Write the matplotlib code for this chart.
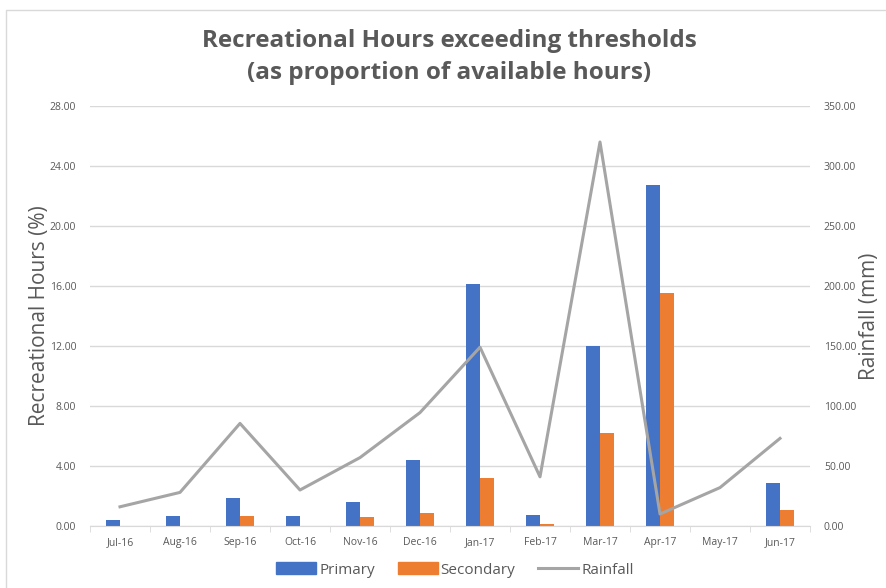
import matplotlib.pyplot as plt
import numpy as np
from matplotlib.lines import Line2D
from matplotlib.patches import Patch, Rectangle

months = ['Jul-16', 'Aug-16', 'Sep-16', 'Oct-16', 'Nov-16', 'Dec-16',
          'Jan-17', 'Feb-17', 'Mar-17', 'Apr-17', 'May-17', 'Jun-17']
primary = [0.42, 0.65, 1.85, 0.65, 1.58, 4.40, 16.15, 0.72, 11.97, 22.75, 0.0, 2.87]
secondary = [0.0, 0.0, 0.67, 0.0, 0.60, 0.85, 3.18, 0.13, 6.18, 15.52, 0.0, 1.07]
rainfall = [16, 28, 85.5, 30, 57, 94.5, 149, 41, 320, 10, 32, 73]

left_ticks = np.arange(0, 28.01, 4)
right_ticks = np.arange(0, 350.01, 50)

blue = '#4472c4'
orange = '#ed7d31'
grey_line = '#a5a5a5'
text_col = '#595959'
font = ['Open Sans', 'DejaVu Sans']

plt.rcParams['font.family'] = font

fig = plt.figure(figsize=(8.86, 5.88), dpi=100)
# light chart-area border
fig.patches.append(Rectangle((6 / 886, -0.1), 2, 1.1 - 10 / 588, transform=fig.transFigure,
                             fill=False, edgecolor='#d9d9d9', linewidth=1))

ax = fig.add_axes([90 / 886, 62 / 588, 720 / 886, 420 / 588])
x = np.arange(len(months))
w = 0.24
ax.bar(x - w / 2, primary, w, color=blue, zorder=2)
ax.bar(x + w / 2, secondary, w, color=orange, zorder=2)

ax.set_xlim(-0.5, len(months) - 0.5)
ax.set_ylim(0, 28)
ax.set_yticks(left_ticks)
ax.set_yticklabels([f'{v:.2f}' for v in left_ticks])
ax.set_xticks(x)
ax.set_xticklabels(months)
ax.set_xticks(np.arange(-0.5, len(months), 1), minor=True)
ax.tick_params(axis='x', which='major', length=0, labelsize=7.5, colors=text_col, pad=8)
ax.tick_params(axis='x', which='minor', length=4, color='#d9d9d9', direction='out')
ax.tick_params(axis='y', length=0, labelsize=7.5, colors=text_col, pad=10)
ax.grid(axis='y', color='#d9d9d9', linewidth=1, zorder=0)
for s in ['top', 'right', 'left']:
    ax.spines[s].set_visible(False)
ax.spines['bottom'].set_color('#d9d9d9')
ax.set_ylabel('Recreational Hours (%)', fontsize=15, color=text_col, labelpad=0)

ax2 = ax.twinx()
ax2.plot(x, rainfall, color=grey_line, linewidth=2.2, zorder=3)
ax2.set_ylim(0, 350)
ax2.set_yticks(right_ticks)
ax2.set_yticklabels([f'{v:.2f}' for v in right_ticks])
ax2.tick_params(axis='y', length=0, labelsize=7.5, colors=text_col, pad=10)
for s in ax2.spines.values():
    s.set_visible(False)
ax2.set_ylabel('Rainfall (mm)', fontsize=15, color=text_col, labelpad=2)

fig.text(0.507, 0.903, 'Recreational Hours exceeding thresholds\n(as proportion of available hours)',
         ha='center', va='center', fontsize=17.5, fontweight='bold', color=text_col,
         linespacing=1.4)

handles = [Patch(color=blue), Patch(color=orange), Line2D([], [], color=grey_line, linewidth=2.2)]
fig.legend(handles, ['Primary', 'Secondary', 'Rainfall'], loc='center',
           bbox_to_anchor=(455 / 886, 18 / 588), ncol=3, frameon=False,
           fontsize=11, labelcolor=text_col, handlelength=2.6, handleheight=0.8,
           handletextpad=0.2, columnspacing=1.5)

fig.savefig('out.png', dpi=100)
